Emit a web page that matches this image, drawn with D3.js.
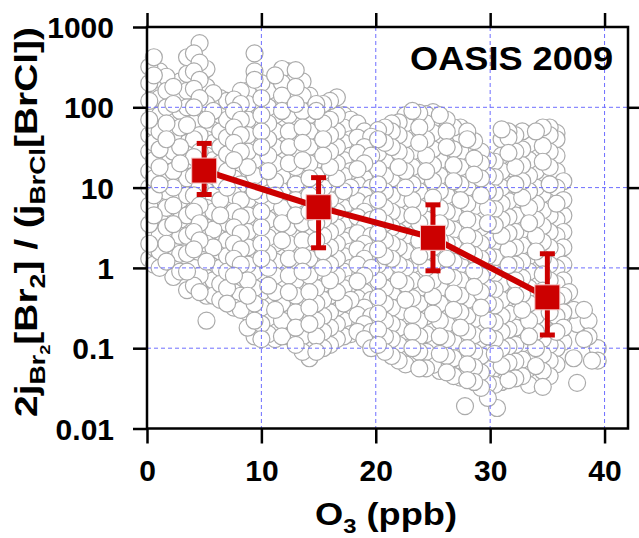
<!DOCTYPE html>
<html>
<head>
<meta charset="utf-8">
<script src="https://cdn.jsdelivr.net/npm/d3@7"></script>
<style>
  body { margin: 0; background: #fff; }
  svg { display: block; font-family: "Liberation Sans", Arial, sans-serif; font-weight: bold; }
</style>
</head>
<body>
<svg width="639" height="538"></svg>
<script>
// binned means (red squares) and their error bars
const o3Bins = [5, 15, 25, 35];
const ratioMean = [16.3, 5.7, 2.37, 0.43];
const ratioHigh = [35.5, 13.3, 6.1, 1.5];
const ratioLow = [8.2, 1.78, 0.92, 0.146];

const xTicks = [0, 10, 20, 30, 40];
const yTicks = [0.01, 0.1, 1, 10, 100, 1000];
const yTickLabels = ["0.01", "0.1", "1", "10", "100", "1000"];

// individual observations, one list of ratios per O3 column (ppb)
const obsO3 = [0.2, 0.6, 1.1, 1.7, 2.3, 2.9, 3.5, 4.1, 4.6, 5.2,
  5.8, 6.4, 7.0, 7.6, 8.2, 8.8, 9.4, 10.0, 10.6, 11.2,
  11.8, 12.4, 13.0, 13.6, 14.2, 14.8, 15.4, 16.0, 16.6, 17.2,
  17.8, 18.4, 19.0, 19.6, 20.2, 20.8, 21.4, 22.0, 22.6, 23.2,
  23.8, 24.4, 25.0, 25.6, 26.2, 26.8, 27.4, 27.8, 28.0, 28.6,
  29.2, 29.8, 30.4, 30.6, 31.0, 31.6, 32.2, 32.8, 33.4, 34.0,
  34.6, 35.2, 35.8, 36.4, 36.9, 37.3, 37.6, 38.2, 38.6, 38.9, 39.4];
const obsRatio = [
  [1.3, 2, 3.5, 6, 10, 16, 28, 45, 70, 120, 200, 320],
  [1.1, 1.8, 2.8, 4.5, 8, 13, 22, 36, 56, 90, 150, 250, 420],
  [1, 1.6, 2.5, 4, 7, 11, 18, 30, 50, 80, 130, 220, 280],
  [1.2, 2, 3.2, 5.6, 9, 14, 25, 40, 63, 100, 160, 240],
  [0.77, 1.3, 2.2, 3.5, 6, 10, 16, 28, 45, 70, 110, 180],
  [0.9, 1.5, 2.5, 4, 7, 12, 20, 32, 56, 90, 140, 210],
  [0.53, 0.9, 1.5, 2.5, 4.5, 8, 13, 22, 36, 60, 100, 160, 260, 420],
  [0.6, 1, 1.7, 2.8, 5, 8, 14, 24, 40, 63, 100, 170, 280, 470],
  [0.5, 0.8, 1.4, 2.2, 3.6, 6, 10, 17, 28, 45, 80, 130, 220, 360, 630],
  [0.22, 0.45, 0.75, 1.2, 2, 3.2, 5.6, 9, 16, 25, 40, 70, 110, 180, 300],
  [0.45, 0.7, 1.1, 1.8, 3, 5, 8, 13, 22, 36, 56, 90, 150],
  [0.4, 0.63, 1, 1.6, 2.8, 4.5, 7, 12, 20, 32, 50, 80, 130],
  [0.36, 0.56, 0.9, 1.4, 2.2, 3.6, 6, 10, 16, 26, 42, 70, 120],
  [0.32, 0.5, 0.8, 1.3, 2, 3.2, 5, 8, 13, 22, 36, 56, 90, 125],
  [0.3, 0.45, 0.7, 1.1, 1.7, 2.7, 4.3, 7, 11, 17, 28, 45, 70, 110, 160],
  [0.18, 0.28, 0.45, 0.7, 1.1, 1.8, 2.8, 4.5, 7, 11, 18, 28, 45, 70, 110, 160],
  [0.14, 0.22, 0.36, 0.56, 0.9, 1.4, 2.2, 3.6, 5.6, 9, 14, 22, 36, 56, 90, 140, 220, 280, 470],
  [0.13, 0.2, 0.32, 0.5, 0.8, 1.3, 2, 3.2, 5, 8, 13, 20, 32, 50, 80, 130, 200],
  [0.15, 0.24, 0.38, 0.6, 1, 1.5, 2.4, 4, 6.5, 10, 16, 25, 40, 63, 100, 160],
  [0.13, 0.2, 0.3, 0.5, 0.8, 1.2, 2, 3.2, 5, 8, 12, 20, 32, 50, 80, 125, 200, 250],
  [0.14, 0.22, 0.36, 0.56, 0.9, 1.4, 2.2, 3.6, 5.6, 9, 14, 22, 36, 56, 90, 140, 200, 300],
  [0.14, 0.2, 0.32, 0.5, 0.8, 1.3, 2, 3.2, 5, 8, 13, 20, 32, 50, 80, 130, 200, 280],
  [0.11, 0.18, 0.28, 0.45, 0.7, 1.1, 1.8, 2.8, 4.5, 7, 11, 18, 28, 45, 70, 110, 180, 290],
  [0.09, 0.14, 0.22, 0.36, 0.56, 0.9, 1.4, 2.2, 3.6, 5.6, 9, 14, 22, 36, 56, 90, 140, 210],
  [0.075, 0.12, 0.2, 0.32, 0.5, 0.8, 1.3, 2, 3.2, 5, 8, 13, 20, 32, 50, 80, 140],
  [0.09, 0.14, 0.22, 0.36, 0.56, 0.9, 1.4, 2.2, 3.6, 5.6, 9, 14, 22, 36, 56, 90, 110],
  [0.1, 0.16, 0.25, 0.4, 0.63, 1, 1.6, 2.5, 4, 6.3, 10, 16, 25, 40, 63, 110],
  [0.11, 0.18, 0.28, 0.45, 0.7, 1.1, 1.8, 2.8, 4.5, 7, 11, 18, 28, 45, 70, 120],
  [0.13, 0.2, 0.32, 0.5, 0.8, 1.3, 2, 3.2, 5, 8, 13, 20, 32, 50, 80, 133],
  [0.14, 0.22, 0.36, 0.56, 0.9, 1.4, 2.2, 3.6, 5.6, 9, 14, 22, 36, 56, 80],
  [0.15, 0.25, 0.4, 0.63, 1, 1.6, 2.5, 4, 6.3, 10, 16, 25, 40, 70],
  [0.16, 0.26, 0.42, 0.68, 1.1, 1.7, 2.7, 4.3, 6.8, 11, 17, 27, 42, 63],
  [0.13, 0.2, 0.32, 0.5, 0.8, 1.3, 2, 3.2, 5, 8, 13, 20, 32, 50],
  [0.1, 0.16, 0.25, 0.4, 0.63, 1, 1.6, 2.5, 4, 6.3, 10, 16, 25, 43],
  [0.11, 0.17, 0.27, 0.43, 0.7, 1.1, 1.7, 2.7, 4.3, 7, 11, 17, 27, 40, 52],
  [0.09, 0.14, 0.22, 0.36, 0.56, 0.9, 1.4, 2.2, 3.6, 5.6, 9, 14, 22, 36, 56],
  [0.08, 0.13, 0.2, 0.32, 0.5, 0.8, 1.3, 2, 3.2, 5, 8, 13, 20, 32, 50, 63],
  [0.07, 0.11, 0.18, 0.28, 0.45, 0.7, 1.1, 1.8, 2.8, 4.5, 7, 11, 18, 28, 45, 65],
  [0.063, 0.1, 0.16, 0.25, 0.4, 0.63, 1, 1.6, 2.5, 4, 6.3, 10, 16, 25, 40, 63, 80],
  [0.065, 0.1, 0.16, 0.26, 0.42, 0.7, 1.1, 1.8, 2.8, 4.5, 7, 11, 18, 28, 45, 70, 90],
  [0.056, 0.09, 0.14, 0.22, 0.36, 0.56, 0.9, 1.4, 2.2, 3.6, 5.6, 9, 14, 22, 36, 56, 85],
  [0.056, 0.09, 0.15, 0.25, 0.4, 0.63, 1, 1.6, 2.5, 4, 6.3, 10, 16, 25, 40, 63, 82],
  [0.062, 0.11, 0.17, 0.27, 0.44, 0.7, 1.15, 1.8, 2.9, 4.6, 7.5, 12, 19, 30, 48, 70, 87],
  [0.052, 0.085, 0.14, 0.22, 0.36, 0.56, 0.9, 1.4, 2.2, 3.6, 5.6, 9, 14, 22, 36, 56, 80],
  [0.05, 0.08, 0.13, 0.2, 0.32, 0.5, 0.8, 1.3, 2, 3.2, 5, 8, 13, 20, 32, 50, 70],
  [0.045, 0.075, 0.12, 0.19, 0.3, 0.48, 0.75, 1.2, 1.9, 3, 4.8, 7.5, 12, 19, 30, 56],
  [0.043, 0.07, 0.11, 0.18, 0.28, 0.45, 0.7, 1.1, 1.8, 2.8, 4.5, 7, 11, 18, 28, 45, 56],
  [0.019],
  [0.04, 0.063, 0.1, 0.16, 0.25, 0.4, 0.63, 1, 1.6, 2.5, 4, 6.3, 10, 16, 25, 40, 50],
  [0.038, 0.058, 0.09, 0.145, 0.23, 0.37, 0.58, 0.92, 1.45, 2.3, 3.7, 5.8, 9.2, 14.5, 23, 38],
  [0.032, 0.05, 0.08, 0.13, 0.2, 0.32, 0.5, 0.8, 1.3, 2, 3.2, 5, 8, 13, 20, 28],
  [0.024, 0.036, 0.055, 0.09, 0.14, 0.22, 0.36, 0.56, 0.9, 1.4, 2.2, 3.6, 5.6, 9, 14, 22],
  [0.035, 0.056, 0.085, 0.13, 0.21, 0.34, 0.54, 0.85, 1.35, 2.1, 3.4, 5.4, 8.5, 13.5, 21],
  [0.018],
  [0.038, 0.06, 0.1, 0.16, 0.25, 0.4, 0.63, 1, 1.6, 2.5, 4, 6.3, 10, 16, 25, 40, 53],
  [0.04, 0.066, 0.105, 0.17, 0.27, 0.43, 0.68, 1.08, 1.7, 2.7, 4.3, 6.8, 10.8, 17, 27, 42, 50],
  [0.042, 0.068, 0.11, 0.18, 0.28, 0.45, 0.7, 1.1, 1.8, 2.8, 4.5, 7, 11, 18, 28, 45],
  [0.045, 0.072, 0.115, 0.19, 0.3, 0.47, 0.75, 1.2, 1.9, 3, 4.7, 7.5, 12, 19, 30, 50],
  [0.035, 0.056, 0.09, 0.14, 0.22, 0.36, 0.56, 0.9, 1.4, 2.2, 3.6, 5.6, 9, 14, 22, 35, 42],
  [0.038, 0.06, 0.1, 0.16, 0.25, 0.4, 0.63, 1, 1.6, 2.5, 4, 6.3, 10, 16, 25, 40, 50],
  [0.033, 0.052, 0.083, 0.13, 0.21, 0.33, 0.52, 0.83, 1.3, 2.1, 3.3, 5.2, 8.3, 13, 21, 33, 56],
  [0.045, 0.07, 0.11, 0.18, 0.28, 0.45, 0.7, 1.1, 1.8, 2.8, 4.5, 7, 11, 18, 28, 45, 56],
  [0.063, 0.1, 0.16, 0.25, 0.4, 0.63, 1, 1.6, 2.5, 4, 6.3, 10, 16, 25, 40, 48],
  [0.12, 0.18, 0.28, 0.45, 0.7, 1.1, 1.8, 2.8, 4.5, 7, 12],
  [0.5],
  [0.075, 0.3],
  [0.037, 0.2],
  [0.13, 0.3],
  [0.14, 0.22],
  [0.07],
  [0.07, 0.1]
];

const svg = d3.select("svg");

const x = d3.scaleLinear().domain([0, 42.05]).range([147, 628]);
const y = d3.scaleLog().domain([0.01, 1000]).range([428.5, 27]);

const red = "#cc0000";

// scatter of observations
const obs = [];
obsO3.forEach((o3, i) => obsRatio[i].forEach(r => obs.push({ o3: o3, r: r })));

// draw in a scrambled (but fixed) order, like a time series would overlap
const n = obs.length;
const drawOrder = d3.range(n).map(k => obs[(k * 389) % n]);

svg.append("g")
  .selectAll("circle")
  .data(drawOrder)
  .enter()
  .append("circle")
  .attr("cx", d => x(d.o3))
  .attr("cy", d => y(d.r))
  .attr("r", 8.5)
  .attr("fill", "#fff")
  .attr("stroke", "#aaaaaa")
  .attr("stroke-width", 1.2);

// dashed grid on top of the cloud
const grid = svg.append("g")
  .attr("stroke", "#6e6eff")
  .attr("stroke-width", 1)
  .attr("stroke-dasharray", "4,3");
grid.selectAll(".gx")
  .data(xTicks.slice(1))
  .enter()
  .append("line")
  .attr("x1", d => x(d)).attr("x2", d => x(d))
  .attr("y1", y(1000)).attr("y2", y(0.01));
grid.selectAll(".gy")
  .data(yTicks.slice(1, -1))
  .enter()
  .append("line")
  .attr("x1", x(0)).attr("x2", x(42.05))
  .attr("y1", d => y(d)).attr("y2", d => y(d));

// axes
function styleAxis(g) {
  g.select(".domain").remove();
  g.selectAll("line").attr("stroke", "#000").attr("stroke-width", 2.5);
  g.attr("font-family", null).attr("font-size", 30).attr("font-weight", "bold");
  g.selectAll("text").attr("fill", "#000");
}

svg.append("g")
  .attr("transform", "translate(" + x(0) + ",0)")
  .call(d3.axisLeft(y).tickValues(yTicks).tickSize(14).tickPadding(19)
    .tickFormat((d, i) => yTickLabels[i]))
  .call(styleAxis)
  .selectAll("text").attr("dy", "0.35em");

svg.append("g")
  .attr("transform", "translate(" + x(42.05) + ",0)")
  .call(d3.axisRight(y).tickValues(yTicks.slice(1, -1)).tickSize(12).tickFormat(""))
  .call(styleAxis);

svg.append("g")
  .attr("transform", "translate(0," + y(0.01) + ")")
  .call(d3.axisBottom(x).tickValues(xTicks).tickSize(15).tickPadding(16))
  .call(styleAxis);

svg.append("g")
  .attr("transform", "translate(0," + y(1000) + ")")
  .call(d3.axisTop(x).tickValues(xTicks).tickSize(14).tickFormat(""))
  .call(styleAxis);

// frame
svg.append("rect")
  .attr("x", x(0)).attr("y", y(1000))
  .attr("width", x(42.05) - x(0))
  .attr("height", y(0.01) - y(1000))
  .attr("fill", "none")
  .attr("stroke", "#000")
  .attr("stroke-width", 2.5);

// binned means
const bins = o3Bins.map((o3, i) => ({ o3: o3, m: ratioMean[i], hi: ratioHigh[i], lo: ratioLow[i] }));

svg.append("path")
  .datum(bins)
  .attr("fill", "none")
  .attr("stroke", red)
  .attr("stroke-width", 6)
  .attr("d", d3.line().x(d => x(d.o3)).y(d => y(d.m)));

const eb = svg.append("g").attr("stroke", red).attr("stroke-width", 5);
eb.selectAll(".v").data(bins).enter().append("line")
  .attr("x1", d => x(d.o3)).attr("x2", d => x(d.o3))
  .attr("y1", d => y(d.lo)).attr("y2", d => y(d.hi));
eb.selectAll(".ch").data(bins).enter().append("line")
  .attr("x1", d => x(d.o3) - 7.5).attr("x2", d => x(d.o3) + 7.5)
  .attr("y1", d => y(d.hi)).attr("y2", d => y(d.hi));
eb.selectAll(".cl").data(bins).enter().append("line")
  .attr("x1", d => x(d.o3) - 7.5).attr("x2", d => x(d.o3) + 7.5)
  .attr("y1", d => y(d.lo)).attr("y2", d => y(d.lo));

svg.append("g")
  .selectAll("rect")
  .data(bins)
  .enter()
  .append("rect")
  .attr("x", d => x(d.o3) - 12.5)
  .attr("y", d => y(d.m) - 12.5)
  .attr("width", 25)
  .attr("height", 25)
  .attr("fill", red)
  .attr("stroke", "#f3c9c9")
  .attr("stroke-width", 1);

// texts, stretched to the measured widths of the original lettering
function fitText(t, tx, ty, rot, w) {
  const bw = t.node().getBBox().width;
  t.attr("transform", "translate(" + tx + "," + ty + ") rotate(" + rot + ") scale(" + (w / bw) + ",1)");
}

const oasis = svg.append("text")
  .attr("text-anchor", "end")
  .attr("font-size", 34)
  .text("OASIS 2009");
fitText(oasis, 613, 70, 0, 203);

const xt = svg.append("text")
  .attr("text-anchor", "middle")
  .attr("font-size", 32);
xt.append("tspan").text("O");
xt.append("tspan").attr("font-size", 21).attr("dy", 8).text("3");
xt.append("tspan").attr("dy", -8).text(" (ppb)");
fitText(xt, 386, 525, 0, 142);

const yt = svg.append("text")
  .attr("text-anchor", "middle")
  .attr("font-size", 32);
yt.append("tspan").text("2j");
yt.append("tspan").attr("font-size", 22).attr("dy", 8).text("Br");
yt.append("tspan").attr("font-size", 15).attr("dy", 5).text("2");
yt.append("tspan").attr("dy", -13).text("[Br");
yt.append("tspan").attr("font-size", 22).attr("dy", 8).text("2");
yt.append("tspan").attr("dy", -8).text("] / (j");
yt.append("tspan").attr("font-size", 22).attr("dy", 8).text("BrCl");
yt.append("tspan").attr("dy", -8).text("[BrCl])");
fitText(yt, 37, 222, -90, 390);
</script>
</body>
</html>
